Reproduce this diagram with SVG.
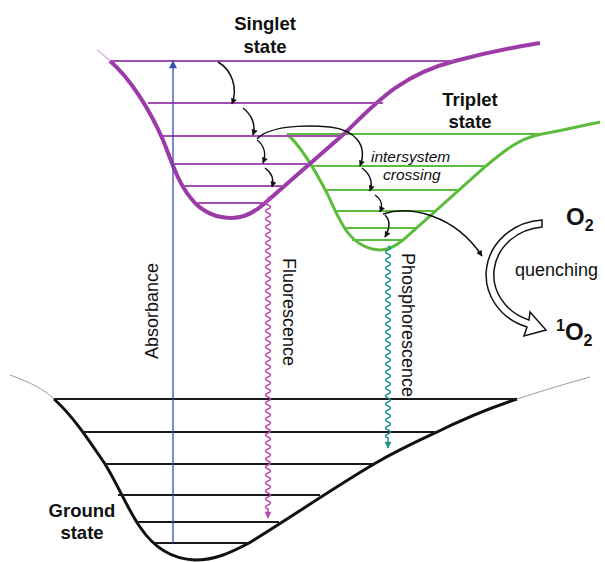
<svg xmlns="http://www.w3.org/2000/svg" width="605" height="562" viewBox="0 0 605 562">
<defs>
<style>
.lbl{font-family:"Liberation Sans",Arial,sans-serif;fill:#111}
.b{font-weight:bold;font-size:18.5px}
.pl{stroke:#a24db1;stroke-width:2;fill:none}
.gl{stroke:#5cbd3c;stroke-width:2;fill:none}
.kl{stroke:#1a1a1a;stroke-width:2;fill:none}
.rel{stroke:#111;stroke-width:1.5;fill:none}
</style>
<marker id="mk" viewBox="0 0 10 10" refX="9" refY="5" markerWidth="7" markerHeight="6" markerUnits="userSpaceOnUse" orient="auto"><path d="M0,0 L10,5 L0,10 z" fill="#111"/></marker>
<marker id="mb" viewBox="0 0 10 10" refX="9" refY="5" markerWidth="13" markerHeight="8" markerUnits="userSpaceOnUse" orient="auto"><path d="M0,0 L10,5 L0,10 z" fill="#3a4cb3"/></marker>
<marker id="mf" viewBox="0 0 10 10" refX="9" refY="5" markerWidth="10" markerHeight="7" markerUnits="userSpaceOnUse" orient="auto"><path d="M0,0 L10,5 L0,10 z" fill="#b84aae"/></marker>
<marker id="mt" viewBox="0 0 10 10" refX="9" refY="5" markerWidth="10" markerHeight="7" markerUnits="userSpaceOnUse" orient="auto"><path d="M0,0 L10,5 L0,10 z" fill="#22908c"/></marker>
</defs>
<rect width="605" height="562" fill="#fff"/>

<g id="ground">
<path d="M10 375 C30 382 45 390 54 399" stroke="#9a9a9a" stroke-width="1" fill="none"/>
<path d="M517 399 C545 390 568 383 590 377" stroke="#9a9a9a" stroke-width="1" fill="none"/>
<path d="M54 399 C75 418 92 445 105 464 C118 485 128 510 140 527 C152 545 170 559 195 560 C215 560 230 553 249 543 C290 518 330 490 374 464 C400 449 420 440 435 433 C465 418 490 408 517 399" stroke="#111" stroke-width="3" fill="none"/>
<line class="kl" x1="54" y1="399" x2="517" y2="399"/>
<line class="kl" x1="82" y1="432" x2="435" y2="432"/>
<line class="kl" x1="105" y1="464" x2="374" y2="464"/>
<line class="kl" x1="118" y1="495" x2="320" y2="495"/>
<line class="kl" x1="137" y1="522" x2="279" y2="522"/>
<line class="kl" x1="155" y1="543" x2="249" y2="543"/>
<text class="lbl b" x="82" y="517" text-anchor="middle">Ground</text>
<text class="lbl b" x="82" y="539" text-anchor="middle">state</text>
</g>

<g id="triplet">
<path d="M287 134 C300 145 315 170 328 195 C340 222 350 248 380 250 C390 250 397 245 403 240 L486 166 C505 150 520 138 542 134 C565 130 585 125 600 122" stroke="#5cbd3c" stroke-width="3" fill="none"/>
<line class="gl" x1="287" y1="134" x2="542" y2="134"/>
<line class="gl" x1="311" y1="166" x2="486" y2="166"/>
<line class="gl" x1="327" y1="190" x2="458" y2="190"/>
<line class="gl" x1="336" y1="211" x2="435" y2="211"/>
<line class="gl" x1="344" y1="228" x2="417" y2="228"/>
<line class="gl" x1="352" y1="240" x2="403" y2="240"/>
<text class="lbl b" x="470" y="106" text-anchor="middle">Triplet</text>
<text class="lbl b" x="470" y="128" text-anchor="middle">state</text>
</g>

<g id="singlet">
<path d="M97 50 C102 54 106 57 110 61" stroke="#d9b3de" stroke-width="1.5" fill="none"/>
<path d="M110 61 C130 78 150 110 163 140 C172 162 178 185 195 203 C205 213 218 218 232 218 C245 218 255 212 265 203 L345 133 C375 104 400 75 455 61 C485 53 515 47 540 43" stroke="#9c3ba8" stroke-width="4" fill="none"/>
<line class="pl" x1="110" y1="61" x2="455" y2="61"/>
<line class="pl" x1="148" y1="103" x2="383" y2="103"/>
<line class="pl" x1="163" y1="136" x2="342" y2="136"/>
<line class="pl" x1="172" y1="164" x2="309" y2="164"/>
<line class="pl" x1="183" y1="186" x2="284" y2="186"/>
<line class="pl" x1="198" y1="203" x2="265" y2="203"/>
<text class="lbl b" x="265" y="30" text-anchor="middle">Singlet</text>
<text class="lbl b" x="265" y="53" text-anchor="middle">state</text>
</g>

<g id="oxygen">
<path d="M542 220 A60 55 0 0 0 527 327 L524 336 L546 330 L530 312 L529 320 A53 48 0 0 1 542 227 Z" fill="#fff" stroke="#111" stroke-width="1.5" stroke-linejoin="miter"/>
<text class="lbl" x="566" y="225" font-weight="bold" font-size="24">O<tspan font-size="16" dy="6">2</tspan></text>
<text class="lbl" x="515" y="276" font-size="18">quenching</text>
<text class="lbl" x="556" y="340" font-weight="bold" font-size="24"><tspan font-size="16" dy="-9">1</tspan><tspan dy="9">O</tspan><tspan font-size="16" dy="6">2</tspan></text>
</g>

<g id="connectors">
<line x1="173" y1="543" x2="173" y2="61" stroke="#3a4cb3" stroke-width="1.3" marker-end="url(#mb)"/>
<path d="M268 197 q5 2 0 4 t0 4 t0 4 t0 4 t0 4 t0 4 t0 4 t0 4 t0 4 t0 4 t0 4 t0 4 t0 4 t0 4 t0 4 t0 4 t0 4 t0 4 t0 4 t0 4 t0 4 t0 4 t0 4 t0 4 t0 4 t0 4 t0 4 t0 4 t0 4 t0 4 t0 4 t0 4 t0 4 t0 4 t0 4 t0 4 t0 4 t0 4 t0 4 t0 4 t0 4 t0 4 t0 4 t0 4 t0 4 t0 4 t0 4 t0 4 t0 4 t0 4 t0 4 t0 4 t0 4 t0 4 t0 4 t0 4 t0 4 t0 4 t0 4 t0 4 t0 4 t0 4 t0 4 t0 4 t0 4 t0 4 t0 4 t0 4 t0 4 t0 4 t0 4 t0 4 t0 4 t0 4 t0 4 t0 4 t0 4 t0 4 v9" stroke="#b84aae" stroke-width="1.5" fill="none" marker-end="url(#mf)"/>
<path d="M388 246 q5 2 0 4 t0 4 t0 4 t0 4 t0 4 t0 4 t0 4 t0 4 t0 4 t0 4 t0 4 t0 4 t0 4 t0 4 t0 4 t0 4 t0 4 t0 4 t0 4 t0 4 t0 4 t0 4 t0 4 t0 4 t0 4 t0 4 t0 4 t0 4 t0 4 t0 4 t0 4 t0 4 t0 4 t0 4 t0 4 t0 4 t0 4 t0 4 t0 4 t0 4 t0 4 t0 4 t0 4 t0 4 t0 4 t0 4 t0 4 t0 4 v10" stroke="#22908c" stroke-width="1.5" fill="none" marker-end="url(#mt)"/>
<path class="rel" d="M218 62 C232 70 238 88 232 104" marker-end="url(#mk)"/>
<path class="rel" d="M243 108 C252 115 256 125 253 135" marker-end="url(#mk)"/>
<path class="rel" d="M257 140 C265 146 266 155 263 163" marker-end="url(#mk)"/>
<path class="rel" d="M265 168 C272 173 274 180 272 187" marker-end="url(#mk)"/>
<path class="rel" d="M257 139 C268 127 300 124 330 127 C355 130 368 145 360 166" marker-end="url(#mk)"/>
<path class="rel" d="M362 168 C370 174 373 182 370 191" marker-end="url(#mk)"/>
<path class="rel" d="M375 195 C382 200 383 205 380 212" marker-end="url(#mk)"/>
<path class="rel" d="M385 215 C391 221 390 228 385 237" marker-end="url(#mk)"/>
<path class="rel" d="M383 214 C410 205 455 215 482 256" marker-end="url(#mk)"/>
</g>

<g id="labels">
<text class="lbl" x="371" y="162" font-style="italic" font-size="15.5">intersystem</text>
<text class="lbl" x="383" y="180" font-style="italic" font-size="15.5">crossing</text>
<text class="lbl" font-size="18" text-anchor="middle" transform="translate(158 311) rotate(-90)">Absorbance</text>
<text class="lbl" font-size="18" text-anchor="middle" transform="translate(283 312) rotate(90)">Fluorescence</text>
<text class="lbl" font-size="18" transform="translate(402 253) rotate(90)">Phosphorescence</text>
</g>
</svg>
